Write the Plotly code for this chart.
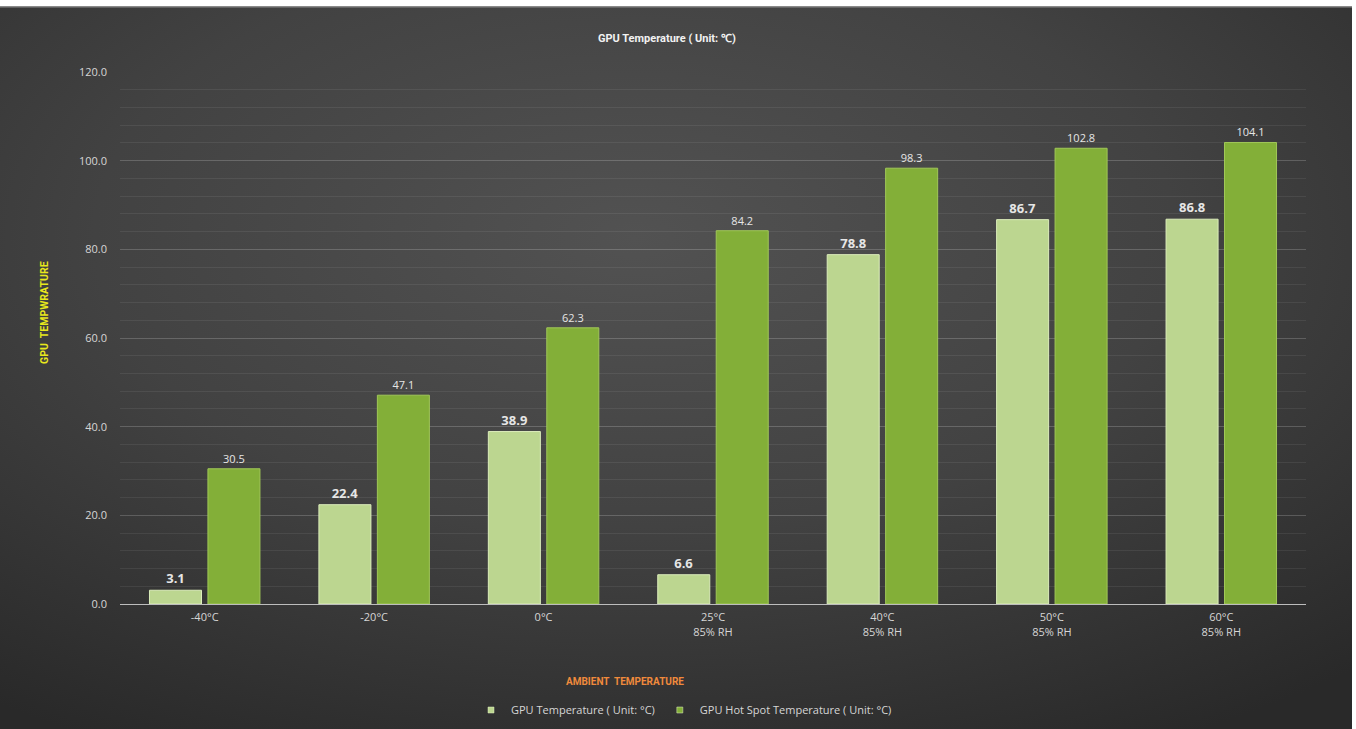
import urllib.parse
import plotly.graph_objects as go

# Ambient test conditions and measured GPU temperatures (°C)
categories = ["-40°C", "-20°C", "0°C", "25°C<br>85% RH", "40°C<br>85% RH", "50°C<br>85% RH", "60°C<br>85% RH"]
gpu_temp = [3.1, 22.4, 38.9, 6.6, 78.8, 86.7, 86.8]
hotspot_temp = [30.5, 47.1, 62.3, 84.2, 98.3, 102.8, 104.1]
y_ticks = [0, 20, 40, 60, 80, 100, 120]
series_names = ["GPU Temperature ( Unit: °C)", "GPU Hot Spot Temperature ( Unit: °C)"]

W, H = 1356, 729
L, R, T, B = 120, 50, 72, 125
PW, PH = W - L - R, H - T - B

font_main = "Open Sans, Noto Sans, sans-serif"
label_grey = "#d6d6d6"
light_green = "#bcd690"
dark_green = "#83af38"

# dark radial-gradient backdrop as an inline svg
bg_svg = (
    "<svg xmlns='http://www.w3.org/2000/svg' width='1352' height='723' viewBox='0 0 1352 723' preserveAspectRatio='none'>"
    "<defs><radialGradient id='g' cx='0.47' cy='0.32' r='0.8'>"
    "<stop offset='0' stop-color='#525252'/>"
    "<stop offset='0.5' stop-color='#424242'/>"
    "<stop offset='1' stop-color='#292929'/>"
    "</radialGradient></defs>"
    "<rect width='1352' height='723' fill='url(#g)'/>"
    "<rect width='1352' height='1.5' fill='#8a8a8a'/>"
    "</svg>"
)
bg_uri = "data:image/svg+xml;charset=utf-8," + urllib.parse.quote(bg_svg)


def px_x(p):
    return (p - L) / PW


def px_y(p):
    return (T + PH - p) / PH


fig = go.Figure()

fig.add_trace(go.Bar(
    name=series_names[0], showlegend=False,
    x=categories, y=gpu_temp,
    marker=dict(color=light_green, line=dict(color="#dcedbb", width=1)),
    texttemplate="<b>%{y:.1f}</b>", textposition="outside",
    textfont=dict(size=13, color="#e6e6e6", family=font_main),
    cliponaxis=False,
))
fig.add_trace(go.Bar(
    name=series_names[1], showlegend=False,
    x=categories, y=hotspot_temp,
    marker=dict(color=dark_green, line=dict(color="#a0c758", width=1)),
    texttemplate="%{y:.1f}", textposition="outside",
    textfont=dict(size=11, color="#e6e6e6", family=font_main),
    cliponaxis=False,
))

# legend entries with small square swatches
for name, col in zip(series_names, [light_green, dark_green]):
    fig.add_trace(go.Scatter(
        x=[None], y=[None], mode="markers", name=name,
        marker=dict(symbol="square", size=6, color=col, line=dict(color="#e0f0c0", width=0.5)),
    ))

fig.update_layout(
    width=W, height=H,
    margin=dict(l=L, r=R, t=T, b=B, autoexpand=False),
    paper_bgcolor="#ffffff",
    plot_bgcolor="rgba(0,0,0,0)",
    barmode="group", bargap=0.31, bargroupgap=0.11,
    font=dict(family=font_main, color=label_grey, size=11),
    showlegend=True,
    legend=dict(
        orientation="h", x=px_x(684), y=px_y(710), xanchor="center", yanchor="middle",
        font=dict(size=11, color=label_grey), bgcolor="rgba(0,0,0,0)",
        itemwidth=30, tracegroupgap=0,
    ),
    images=[dict(
        source=bg_uri, xref="paper", yref="paper",
        x=px_x(0), y=px_y(6), sizex=1352 / PW, sizey=723 / PH,
        xanchor="left", yanchor="top", sizing="stretch", layer="below",
    )],
    xaxis=dict(
        showgrid=False, showline=True, linecolor="#bdbdbd", linewidth=1,
        ticks="", tickfont=dict(size=11, color=label_grey), ticklabelstandoff=3,
    ),
    yaxis=dict(
        range=[0, 120], tickvals=y_ticks, tickformat=".1f",
        showgrid=True, gridcolor="rgba(255,255,255,0.13)", gridwidth=1,
        zeroline=False, showline=False, ticks="",
        tickfont=dict(size=11, color=label_grey), ticklabelstandoff=12,
        minor=dict(dtick=4, showgrid=True, gridcolor="rgba(255,255,255,0.07)", gridwidth=1),
    ),
    annotations=[
        dict(text="<b>GPU Temperature ( Unit: ℃)</b>", xref="paper", yref="paper",
             x=px_x(667), y=px_y(38), xanchor="center", yanchor="middle", showarrow=False,
             font=dict(size=11, color="#f2f2f2", family="Roboto, sans-serif")),
        dict(text="<b>GPU  TEMPWRATURE</b>", xref="paper", yref="paper",
             x=px_x(44), y=px_y(313), xanchor="center", yanchor="middle",
             showarrow=False, textangle=-90,
             font=dict(size=10.5, color="#e8e81c", family="Roboto, sans-serif")),
        dict(text="<b>AMBIENT  TEMPERATURE</b>", xref="paper", yref="paper",
             x=px_x(625), y=px_y(681), xanchor="center", yanchor="middle", showarrow=False,
             font=dict(size=10, color="#f08a3c", family="Roboto, sans-serif")),
    ],
)

fig.write_html("out.html")
